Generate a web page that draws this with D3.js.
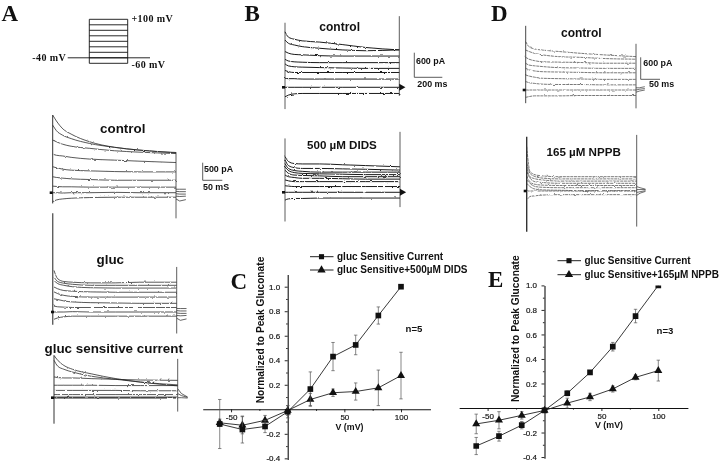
<!DOCTYPE html>
<html>
<head>
<meta charset="utf-8">
<script src="https://cdn.jsdelivr.net/npm/d3@7"></script>
<style>
  html, body { margin: 0; padding: 0; background: #fff; overflow: hidden; }
  svg { display: block; filter: blur(0.35px); }
  text { font-family: "Liberation Sans", Arial, sans-serif; fill: #111; }
  .serif { font-family: "Liberation Serif", "Times New Roman", serif; font-weight: bold; }
  .bold { font-weight: bold; }
</style>
</head>
<body>
<div id="chart"></div>
<script>
// percent of the voltage pulse at which the traces were read
const sweepPct = [0, 3, 8, 15, 30, 50, 70, 100];
const tailPct = [100, 103, 108];

// voltage protocol (mV)
const stepVoltages = [100, 80, 60, 40, 20, 0, -20, -40, -60];

// panel A traces, pA
const aControl = [
  [2240, 2070, 1850, 1690, 1470, 1310, 1230, 1160],
  [1950, 1790, 1660, 1560, 1420, 1310, 1230, 1150],
  [1520, 1470, 1400, 1340, 1280, 1210, 1170, 1130],
  [1110, 1080, 1060, 1020, 970, 940, 910, 870],
  [750, 720, 680, 650, 630, 610, 600, 600],
  [460, 440, 420, 400, 380, 360, 360, 360],
  [190, 180, 170, 170, 160, 160, 160, 160],
  [0, 0, -10, 0, 0, 10, 0, 0],
  [-260, -210, -180, -160, -140, -130, -130, -130]
];
const aGluc = [
  [1200, 960, 880, 860, 840, 840, 860, 860],
  [1010, 880, 830, 800, 770, 770, 770, 770],
  [910, 820, 770, 730, 700, 690, 690, 690],
  [720, 670, 620, 600, 580, 570, 570, 570],
  [580, 530, 480, 450, 430, 430, 430, 430],
  [380, 360, 320, 290, 270, 260, 250, 250],
  [170, 150, 140, 130, 130, 130, 130, 130],
  [0, 0, 0, 10, 0, 0, 0, 0],
  [-210, -170, -140, -120, -120, -120, -120, -120]
];
const aSensitive = [
  [1220, 1080, 930, 820, 690, 550, 450, 340],
  [1080, 910, 820, 740, 620, 530, 450, 370],
  [600, 580, 570, 570, 550, 530, 510, 500],
  [360, 360, 360, 360, 360, 350, 350, 350],
  [210, 210, 210, 210, 210, 210, 200, 200],
  [90, 90, 90, 90, 90, 90, 90, 90],
  [20, 20, 20, 20, 20, 20, 20, 20],
  [0, 0, 0, 0, 0, 0, 0, 0],
  [-10, -10, -10, -10, -10, -10, -10, -10]
];
// panel B traces, pA
const bControl = [
  [1350, 1220, 1170, 1130, 1100, 1040, 970, 910],
  [1150, 1070, 1030, 990, 950, 910, 890, 910],
  [870, 830, 800, 790, 770, 760, 760, 760],
  [680, 640, 620, 610, 600, 600, 600, 600],
  [570, 520, 500, 490, 480, 470, 460, 460],
  [410, 380, 360, 360, 360, 360, 360, 360],
  [220, 210, 210, 200, 200, 200, 200, 200],
  [0, 0, 0, 0, 0, 0, 0, 0],
  [-230, -190, -160, -150, -150, -150, -150, -150]
];
const bDids = [
  [870, 750, 700, 690, 690, 670, 650, 620],
  [790, 650, 600, 580, 580, 570, 560, 540],
  [700, 580, 530, 510, 490, 490, 490, 490],
  [620, 530, 480, 460, 450, 440, 430, 430],
  [540, 460, 420, 410, 400, 380, 380, 380],
  [420, 380, 360, 340, 340, 330, 320, 320],
  [300, 280, 260, 260, 260, 260, 260, 260],
  [160, 150, 140, 140, 140, 140, 140, 140],
  [0, 0, 0, 0, 0, 0, 0, 0],
  [-190, -160, -150, -150, -140, -140, -140, -140]
];
// panel D traces, pA
const dControl = [
  [1320, 1180, 1120, 1090, 1050, 1000, 960, 910],
  [1090, 1050, 1000, 960, 910, 890, 860, 840],
  [890, 840, 800, 770, 760, 750, 730, 730],
  [730, 680, 660, 640, 610, 600, 590, 590],
  [590, 550, 520, 500, 490, 480, 470, 470],
  [410, 380, 350, 320, 310, 300, 290, 290],
  [230, 200, 180, 160, 150, 150, 140, 140],
  [0, 0, 0, 0, 0, 0, 0, 0],
  [-200, -180, -160, -160, -160, -150, -150, -150]
];
const dNppb = [
  [1210, 530, 440, 410, 390, 390, 390, 390],
  [760, 480, 390, 350, 330, 330, 330, 330],
  [620, 390, 330, 300, 270, 270, 270, 270],
  [530, 350, 250, 230, 210, 210, 210, 210],
  [410, 250, 180, 160, 150, 150, 150, 150],
  [300, 210, 120, 100, 90, 90, 90, 90],
  [210, 120, 50, 30, 20, 10, 10, 10],
  [0, 0, 0, 0, 0, 0, 0, 0],
  [-270, -150, -130, -110, -100, -100, -100, -100]
];

// tail currents after the pulse, pA
const aTails = [[100, 100, 100], [40, 30, 30], [-30, -40, -40], [-100, -110, -100], [-180, -240, -200]];
const sensTails = [[260, 120, 20], [120, 60, 10], [0, 0, -10]];
const dTails = [[60, 60, 90], [0, 20, 40], [-60, -30, 0]];
const nppbTails = [[120, 90, 50], [40, 40, 40], [-40, -20, 10], [-120, -60, -10]];

// capacitive spikes [percent, high pA, low pA]
const aControlSpikes = [[0, 2240, -310], [100, 1170, -740]];
const aGlucSpikes = [[-1, 2850, -365], [100, 1300, -620]];
const aSensSpikes = [[0, 1220, -750], [100, 1120, -400]];
const bControlSpikes = [[0, 1570, -530], [100, 1730, -210]];
const bDidsSpikes = [[0, 1310, -710], [100, 1470, -360]];
const dControlSpikes = [[0, 1750, -360], [100, 1260, -500]];
const dNppbSpikes = [[0, 1480, -1110], [100, 1530, -970]];

// I-V curves
const voltages = [-60, -40, -20, 0, 20, 40, 60, 80, 100];
const cGluc = [-0.12, -0.165, -0.14, -0.02, 0.165, 0.43, 0.525, 0.765, 1.0];
const cGlucErr = [0.2, 0.11, 0.05, 0.05, 0.14, 0.115, 0.08, 0.07, 0];
const cDids = [-0.11, -0.13, -0.09, -0.01, 0.08, 0.135, 0.145, 0.175, 0.275];
const cDidsErr = [0.03, 0.07, 0.04, 0.04, 0.05, 0.03, 0.07, 0.145, 0.19];
const eGluc = [-0.31, -0.23, -0.14, -0.02, 0.12, 0.29, 0.5, 0.75, 1.0];
const eGlucErr = [0.07, 0.04, 0.03, 0.01, 0.02, 0.015, 0.035, 0.055, 0];
const eNppb = [-0.13, -0.1, -0.06, -0.02, 0.04, 0.09, 0.155, 0.25, 0.305];
const eNppbErr = [0.08, 0.07, 0.03, 0.01, 0.04, 0.03, 0.025, 0.02, 0.085];

const yTicks = [-0.4, -0.2, 0.2, 0.4, 0.6, 0.8, 1.0];
const yMinorTicks = [-0.3, -0.1, 0.1, 0.3, 0.5, 0.7, 0.9];
const xTicks = [-50, 50, 100];
const xMinorTicks = [-25, 25, 75];

const svg = d3.select("#chart").append("svg").attr("width", 720).attr("height", 464);
svg.append("rect").attr("width", 720).attr("height", 464).attr("fill", "#fff");

// wobble to get the rough look of the scanned traces
const rough = svg.append("defs").append("filter").attr("id", "rough")
  .attr("x", "-5%").attr("y", "-5%").attr("width", "110%").attr("height", "110%");
rough.append("feTurbulence").attr("type", "fractalNoise").attr("baseFrequency", 0.3)
  .attr("numOctaves", 2).attr("seed", 4).attr("result", "n");
rough.append("feDisplacementMap").attr("in", "SourceGraphic").attr("in2", "n").attr("scale", 2.4);

function label(s, x, y, size, cls) {
  return svg.append("text").attr("x", x).attr("y", y).attr("font-size", size).attr("class", cls || "bold").text(s);
}

function tracePanel(o) {
  const x = d3.scaleLinear().domain([0, 100]).range([o.left, o.right]);
  const y = d3.scaleLinear().domain([0, o.barPa]).range([o.base, o.base - o.barPx]);
  const line = d3.line().x((d, i) => x(sweepPct[i])).y(d => y(d)).curve(d3.curveMonotoneX);
  const g = svg.append("g").attr("fill", "none").attr("stroke", o.color).attr("stroke-width", o.width);

  const tr = g.append("g").attr("filter", "url(#rough)").attr("stroke-dasharray", o.dash || null);
  tr.selectAll("path.trace").data(o.traces).enter().append("path").attr("class", "trace").attr("d", line);

  if (o.tails) {
    const tailLine = d3.line().x((d, i) => x(tailPct[i])).y(d => y(d));
    g.selectAll("path.tail").data(o.tails).enter().append("path").attr("class", "tail")
      .attr("d", tailLine).attr("stroke-width", 0.7);
  }

  g.selectAll("line.spike").data(o.spikes).enter().append("line").attr("class", "spike")
    .attr("x1", d => x(d[0])).attr("x2", d => x(d[0]))
    .attr("y1", d => y(d[1])).attr("y2", d => y(d[2]))
    .attr("stroke", "#333").attr("stroke-width", (d, i) => i === 0 ? o.spikeWidth : 0.8);

  // holding level mark in front of the sweep
  svg.append("rect").attr("x", x(0) - 3).attr("y", y(0) - 1.3).attr("width", 3).attr("height", 2.6).attr("fill", "#111");
  if (o.endMark) {
    svg.append("path").attr("fill", "#111")
      .attr("transform", `translate(${x(100) + 2},${y(0)}) rotate(90)`)
      .attr("d", d3.symbol(d3.symbolTriangle, 22)());
  }
}

function scaleBar(x, top, bottom, right) {
  svg.append("path").attr("fill", "none").attr("stroke", "#333").attr("stroke-width", 0.8)
    .attr("d", d3.line()([[x, top], [x, bottom], [right, bottom]]));
}

const commonA = { left: 52.7, right: 176, barPa: 500, barPx: 17.33, color: "#222", width: 0.75, spikeWidth: 1 };
tracePanel({ ...commonA, base: 192.7, traces: aControl, spikes: aControlSpikes, tails: aTails });
tracePanel({ ...commonA, left: 54, right: 176.7, base: 312, traces: aGluc, spikes: aGlucSpikes, tails: aTails, spikeWidth: 1.1 });
tracePanel({ ...commonA, left: 54, right: 177.7, base: 397.7, traces: aSensitive, spikes: aSensSpikes, tails: sensTails });

const commonB = { left: 285, right: 399.3, barPa: 600, barPx: 24.67, color: "#111", width: 0.95, spikeWidth: 0.8, endMark: true };
tracePanel({ ...commonB, base: 87.3, traces: bControl, spikes: bControlSpikes });
tracePanel({ ...commonB, right: 400, base: 192.3, traces: bDids, spikes: bDidsSpikes });

const commonD = { barPa: 600, barPx: 22, color: "#333", width: 0.65, dash: "3 0.7", spikeWidth: 0.9 };
tracePanel({ ...commonD, left: 525.7, right: 636, base: 90, traces: dControl, spikes: dControlSpikes, tails: dTails });
tracePanel({ ...commonD, left: 526.7, right: 636.7, base: 191, traces: dNppb, spikes: dNppbSpikes, tails: nppbTails, spikeWidth: 1.4 });

// voltage protocol
const stepY = d3.scaleLinear().domain([-60, 100]).range([63.3, 19.3]);
const protocol = svg.append("g").attr("stroke", "#111").attr("stroke-width", 0.9);
protocol.selectAll("line.step").data(stepVoltages).enter().append("line").attr("class", "step")
  .attr("x1", 89.3).attr("x2", 127.7).attr("y1", d => stepY(d)).attr("y2", d => stepY(d));
protocol.append("line").attr("x1", 67.7).attr("x2", 150).attr("y1", stepY(-40)).attr("y2", stepY(-40));
protocol.append("line").attr("x1", 89.3).attr("x2", 89.3).attr("y1", stepY(100)).attr("y2", stepY(-60));
protocol.append("line").attr("x1", 127.7).attr("x2", 127.7).attr("y1", stepY(100)).attr("y2", stepY(-60));
label("+100 mV", 131.5, 21.7, 10, "serif").attr("letter-spacing", 0.4);
label("-40 mV", 32.3, 61, 10, "serif").attr("letter-spacing", 0.4);
label("-60 mV", 131.5, 67.7, 10, "serif").attr("letter-spacing", 0.4);

// panel letters
label("A", 1.5, 20.7, 23, "serif");
label("B", 244.5, 20.7, 23, "serif");
label("C", 230.5, 288.5, 23, "serif");
label("D", 491, 20.7, 23, "serif");
label("E", 488, 287, 23, "serif");

// trace titles
label("control", 100, 133, 13.4);
label("gluc", 96.5, 264, 13.4);
label("gluc sensitive current", 44.5, 353, 13.4);
label("control", 319.3, 31, 12);
label("500 \u00b5M DIDS", 307, 149, 11.6);
label("control", 561, 37, 12);
label("165 \u00b5M NPPB", 546.5, 156, 11.6);

// scale bars
scaleBar(202.7, 162.7, 180.3, 222.3);
label("500 pA", 204, 171.7, 8.9);
label("50 mS", 203, 190, 8.9);
scaleBar(414.3, 52.7, 77.3, 442.3);
label("600 pA", 416, 64.3, 8.9);
label("200 ms", 417.3, 87.3, 8.9);
scaleBar(640.7, 57.3, 79.3, 660);
label("600 pA", 643.3, 66, 8.9);
label("50 ms", 649, 87.3, 8.9);

function ivChart(o) {
  const x = d3.scaleLinear().domain([-75, 126]).range([o.x0 - 75 * o.pxPerMv, o.x0 + 126 * o.pxPerMv]);
  const y = d3.scaleLinear().domain([-0.41, o.yTop]).range([o.y0 + 0.41 * 122.6, o.y0 - o.yTop * 122.6]);
  const g = svg.append("g").attr("class", "iv");

  const axisY = d3.axisLeft(y).tickValues(yTicks).tickSize(3).tickSizeOuter(0).tickPadding(4.5)
    .tickFormat(d => d.toFixed(1));
  const axisX = d3.axisBottom(x).tickValues(xTicks).tickSize(3).tickSizeOuter(0).tickPadding(2.5)
    .tickFormat(d => String(d));
  const ay = g.append("g").attr("transform", `translate(${x(0)},0)`).call(axisY);
  const ax = g.append("g").attr("transform", `translate(0,${y(0)})`).call(axisX);
  g.append("g").attr("transform", `translate(${x(0)},0)`)
    .call(d3.axisLeft(y).tickValues(yMinorTicks).tickSize(1.6).tickSizeOuter(0).tickFormat(""))
    .select(".domain").remove();
  g.append("g").attr("transform", `translate(0,${y(0)})`)
    .call(d3.axisBottom(x).tickValues(xMinorTicks).tickSize(1.6).tickSizeOuter(0).tickFormat(""))
    .select(".domain").remove();
  g.selectAll(".domain").attr("stroke", "#111").attr("stroke-width", 1.1);
  g.selectAll(".tick line").attr("stroke", "#111").attr("stroke-width", 0.9);
  [ay, ax].forEach(a => a.selectAll("text").attr("font-size", 8).attr("fill", "#222").attr("stroke", "#222").attr("stroke-width", 0.2));

  const clipId = "clip" + o.name;
  svg.append("clipPath").attr("id", clipId).append("rect")
    .attr("x", 0).attr("width", 720).attr("y", o.clipTop).attr("height", 464 - o.clipTop);
  const plot = g.append("g").attr("clip-path", `url(#${clipId})`);

  const line = d3.line().x((d, i) => x(voltages[i])).y(d => y(d));
  const series = [
    { v: o.second, e: o.secondErr, sym: d3.symbolTriangle, size: 28 },
    { v: o.first, e: o.firstErr, sym: d3.symbolSquare, size: 32 }
  ];
  series.forEach(s => {
    plot.append("path").attr("d", line(s.v)).attr("fill", "none").attr("stroke", "#222").attr("stroke-width", 0.9);
    const err = plot.append("g").attr("stroke", "#555").attr("stroke-width", 0.7);
    s.v.forEach((d, i) => {
      if (!s.e[i]) return;
      const px = x(voltages[i]);
      err.append("line").attr("x1", px).attr("x2", px).attr("y1", y(d - s.e[i])).attr("y2", y(d + s.e[i]));
      [d - s.e[i], d + s.e[i]].forEach(c => {
        err.append("line").attr("x1", px - 1.7).attr("x2", px + 1.7).attr("y1", y(c)).attr("y2", y(c));
      });
    });
    plot.selectAll(null).data(s.v).enter().append("path")
      .attr("transform", (d, i) => `translate(${x(voltages[i])},${y(d)})`)
      .attr("d", d3.symbol(s.sym, s.size)()).attr("fill", "#111");
  });

  // legend
  o.legend.forEach((t, i) => {
    const ly = o.legendY[i];
    g.append("line").attr("x1", o.legendX).attr("x2", o.legendX + 23.5).attr("y1", ly).attr("y2", ly)
      .attr("stroke", "#222").attr("stroke-width", 1);
    g.append("path").attr("transform", `translate(${o.legendX + 11.5},${ly})`)
      .attr("d", d3.symbol(i === 0 ? d3.symbolSquare : d3.symbolTriangle, i === 0 ? 26 : 30)()).attr("fill", "#111");
    label(t, o.legendX + 27, ly + 3.4, 10);
  });

  label("Normalized to Peak Gluconate", 0, 0, 10.2)
    .attr("text-anchor", "middle").attr("transform", `translate(${o.titleX},${o.titleY}) rotate(-90)`);
  label("V (mV)", o.vX, o.vY, 8.8).attr("text-anchor", "middle");
  label(o.n, o.nX, o.nY, 9.6).attr("text-anchor", "middle");
}

ivChart({
  name: "C", x0: 287.7, pxPerMv: 1.133, y0: 409.3, yTop: 1.1, clipTop: 0,
  first: cGluc, firstErr: cGlucErr, second: cDids, secondErr: cDidsErr,
  legend: ["gluc Sensitive Current", "gluc Sensitive+500\u00b5M DIDS"],
  legendX: 310, legendY: [256.7, 270],
  titleX: 264.3, titleY: 330, vX: 349.5, vY: 430, n: "n=5", nX: 414, nY: 331.7
});
ivChart({
  name: "E", x0: 544.5, pxPerMv: 1.138, y0: 408, yTop: 1.0, clipTop: 285.4,
  first: eGluc, firstErr: eGlucErr, second: eNppb, secondErr: eNppbErr,
  legend: ["gluc Sensitive Current", "gluc Sensitive+165\u00b5M NPPB"],
  legendX: 557.5, legendY: [260.7, 274.7],
  titleX: 519.3, titleY: 328.7, vX: 609, vY: 428.3, n: "n=3", nX: 665, nY: 334
});
</script>
</body>
</html>
